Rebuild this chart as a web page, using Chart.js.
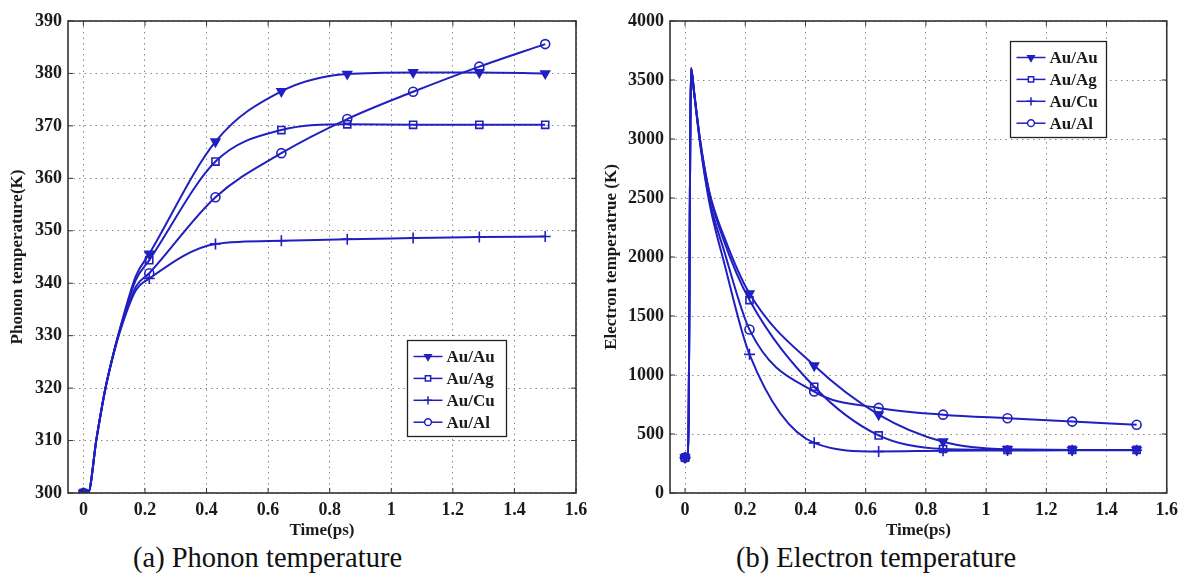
<!DOCTYPE html>
<html>
<head>
<meta charset="utf-8">
<script src="https://cdn.jsdelivr.net/npm/chart.js@4.4.1/dist/chart.umd.min.js"></script>
<style>
  html, body { margin: 0; padding: 0; background: #fff; }
  body { width: 1185px; height: 578px; position: relative; overflow: hidden; }
  .box { position: absolute; top: 0; }
  #boxA { left: 0; }
  #boxB { left: 595px; }
  .caption { position: absolute; top: 544px; font: 28.5px/28px "Liberation Serif", serif; color: #111; white-space: nowrap; }
</style>
</head>
<body>
<div class="box" id="boxA"><canvas id="phononChart" width="595" height="542"></canvas></div>
<div class="box" id="boxB"><canvas id="electronChart" width="590" height="542"></canvas></div>
<div class="caption" style="left:133px">(a) Phonon temperature</div>
<div class="caption" style="left:736px">(b) Electron temperature</div>
<script>
// 数据：从原图读出
const seriesNames = ['Au/Au', 'Au/Ag', 'Au/Cu', 'Au/Al'];
const xTicks = [0, 0.2, 0.4, 0.6, 0.8, 1, 1.2, 1.4, 1.6];

// (a) 声子温度
const phononTime = [0, 0.015, 0.043, 0.07, 0.095, 0.12, 0.17, 0.214, 0.429, 0.643, 0.857, 1.071, 1.286, 1.5];
const phononAuAu = [300, 300, 310.5, 319.5, 326, 331.6, 341.3, 345.6, 367.0, 376.6, 379.9, 380.2, 380.2, 380.0];
const phononAuAg = [300, 300, 310.5, 319.5, 326, 331.5, 340.6, 344.4, 363.2, 369.2, 370.3, 370.2, 370.2, 370.2];
const phononAuCu = [300, 300, 310.5, 319.5, 325.8, 331.0, 338.6, 340.9, 347.5, 348.1, 348.4, 348.6, 348.8, 348.9];
const phononAuAl = [300, 300, 310.5, 319.5, 325.9, 331.2, 339.3, 341.9, 356.4, 364.8, 371.3, 376.5, 381.3, 385.6];
const phononMarkerIdx = [0, 7, 8, 9, 10, 11, 12, 13];
const phononYTicks = [300, 310, 320, 330, 340, 350, 360, 370, 380, 390];

// (b) 电子温度
const electronTime = [0, 0.01, 0.02, 0.03, 0.05, 0.08, 0.13, 0.214, 0.429, 0.643, 0.857, 1.071, 1.286, 1.5];
const electronAuAu = [300, 300, 3600, 3400, 2990, 2560, 2170, 1690, 1080, 665, 435, 370, 365, 365];
const electronAuAg = [300, 300, 3600, 3400, 2990, 2550, 2130, 1635, 900, 488, 373, 366, 365, 365];
const electronAuCu = [300, 300, 3600, 3390, 2960, 2470, 1950, 1175, 425, 352, 358, 360, 362, 362];
const electronAuAl = [300, 300, 3600, 3395, 2970, 2500, 2050, 1385, 860, 721, 664, 633, 605, 579];
const electronMarkerIdx = [0, 7, 8, 9, 10, 11, 12, 13];
const electronYTicks = [0, 500, 1000, 1500, 2000, 2500, 3000, 3500, 4000];

// 样式
const lineColor = '#2020c0';
const gridColor = '#8a8a8a';
const markerStyle = [
    { style: 'triangle', rotation: 180, radius: 5, fill: true },
    { style: 'rect', rotation: 0, radius: 5, fill: false },
    { style: 'cross', rotation: 0, radius: 5.5, fill: false },
    { style: 'circle', rotation: 0, radius: 4.5, fill: false }
];
const tickFont = { family: 'Liberation Serif', weight: 'bold', size: 18 };
const titleFont = { family: 'Liberation Serif', weight: 'bold', size: 17 };

Chart.defaults.font.family = 'Liberation Serif';
Chart.defaults.color = '#1a1a1a';

function buildDatasets(time, seriesList, markerIdx) {
    return seriesList.map((vals, i) => {
        const m = markerStyle[i];
        return {
            label: seriesNames[i],
            data: time.map((t, k) => ({ x: t, y: vals[k] })),
            borderColor: lineColor,
            borderWidth: 2,
            pointStyle: m.style,
            pointRotation: m.rotation,
            pointRadius: time.map((t, k) => markerIdx.includes(k) ? m.radius : 0),
            pointBorderWidth: 1.6,
            pointBorderColor: lineColor,
            pointBackgroundColor: m.fill ? lineColor : 'rgba(0,0,0,0)',
            cubicInterpolationMode: 'monotone',
            fill: false
        };
    });
}

// 外框、内侧刻度和图例
const frameAndLegend = {
    id: 'frameAndLegend',
    afterDatasetsDraw(chart, args, opts) {
        const { ctx, chartArea: a, scales } = chart;
        ctx.save();
        ctx.strokeStyle = '#333';
        ctx.lineWidth = 1;
        ctx.beginPath();
        scales.x.ticks.forEach(t => {
            const px = scales.x.getPixelForValue(t.value);
            ctx.moveTo(px, a.bottom); ctx.lineTo(px, a.bottom - 5);
            ctx.moveTo(px, a.top); ctx.lineTo(px, a.top + 5);
        });
        scales.y.ticks.forEach(t => {
            const py = scales.y.getPixelForValue(t.value);
            ctx.moveTo(a.left, py); ctx.lineTo(a.left + 5, py);
            ctx.moveTo(a.right, py); ctx.lineTo(a.right - 5, py);
        });
        ctx.stroke();
        ctx.lineWidth = 1.6;
        ctx.strokeRect(a.left, a.top, a.width, a.height);

        // 图例
        const lx = Math.round(a.left + opts.left * a.width) + 0.5;
        const ly = Math.round(a.top + opts.top * a.height) + 0.5;
        const w = opts.width, h = opts.height;
        ctx.fillStyle = '#fff';
        ctx.fillRect(lx, ly, w, h);
        ctx.strokeStyle = '#222';
        ctx.lineWidth = 1.3;
        ctx.strokeRect(lx, ly, w, h);
        ctx.font = 'bold 17px "Liberation Serif"';
        ctx.textBaseline = 'middle';
        chart.data.datasets.forEach((ds, i) => {
            const y = ly + 16 + i * 21.9;
            ctx.strokeStyle = lineColor;
            ctx.lineWidth = 1.5;
            ctx.beginPath();
            ctx.moveTo(lx + 6, y); ctx.lineTo(lx + 35, y);
            ctx.stroke();
            const m = markerStyle[i];
            ctx.fillStyle = m.fill ? lineColor : '#fff';
            if (Chart.helpers && Chart.helpers.drawPoint) {
                Chart.helpers.drawPoint(ctx, { pointStyle: m.style, rotation: m.rotation, radius: m.radius * 0.75, borderWidth: 1.4 }, lx + 20.5, y);
            }
            ctx.fillStyle = '#1a1a1a';
            ctx.fillText(ds.label, lx + 39, y + 1);
        });
        ctx.restore();
    }
};

function makeChart(canvasId, cfg) {
    const ctx = document.getElementById(canvasId).getContext('2d');
    return new Chart(ctx, {
        type: 'line',
        data: { datasets: cfg.datasets },
        plugins: [frameAndLegend],
        options: {
            responsive: false,
            animation: false,
            layout: { padding: { left: 0, top: 21, right: cfg.padRight, bottom: 1 } },
            plugins: {
                legend: { display: false },
                tooltip: { enabled: false },
                frameAndLegend: cfg.legend
            },
            scales: {
                x: {
                    type: 'linear',
                    min: -0.05,
                    max: 1.6,
                    afterBuildTicks: s => { s.ticks = xTicks.map(v => ({ value: v })); },
                    afterFit: s => { s.height = 48; },
                    grid: { color: gridColor, lineWidth: 1, drawTicks: false },
                    border: { display: false, dash: [1.5, 4] },
                    ticks: {
                        autoSkip: false,
                        maxRotation: 0,
                        padding: 7,
                        font: tickFont,
                        callback: v => String(+v.toFixed(2))
                    },
                    title: { display: true, text: 'Time(ps)', font: titleFont, padding: { top: 0, bottom: 0 } }
                },
                y: {
                    type: 'linear',
                    min: cfg.yTicks[0],
                    max: cfg.yTicks[cfg.yTicks.length - 1],
                    afterBuildTicks: s => { s.ticks = cfg.yTicks.map(v => ({ value: v })); },
                    afterFit: s => { s.width = cfg.yWidth; },
                    grid: { color: gridColor, lineWidth: 1, drawTicks: false },
                    border: { display: false, dash: [1.5, 4] },
                    ticks: { autoSkip: false, padding: 6, font: tickFont, callback: v => String(v) },
                    title: { display: true, text: cfg.yTitle, font: titleFont, padding: { top: cfg.yTitlePad, bottom: 0 } }
                }
            }
        }
    });
}

makeChart('phononChart', {
    datasets: buildDatasets(phononTime, [phononAuAu, phononAuAg, phononAuCu, phononAuAl], phononMarkerIdx),
    yTicks: phononYTicks,
    yTitle: 'Phonon temperature(K)',
    yWidth: 68,
    yTitlePad: 7,
    padRight: 19,
    legend: { left: 0.667, top: 0.676, width: 99, height: 96 }
});

makeChart('electronChart', {
    datasets: buildDatasets(electronTime, [electronAuAu, electronAuAg, electronAuCu, electronAuAl], electronMarkerIdx),
    yTicks: electronYTicks,
    yTitle: 'Electron temperatrue (K)',
    yWidth: 75,
    yTitlePad: 6,
    padRight: 11,
    legend: { left: 0.685, top: 0.042, width: 96, height: 96 }
});
</script>
</body>
</html>
